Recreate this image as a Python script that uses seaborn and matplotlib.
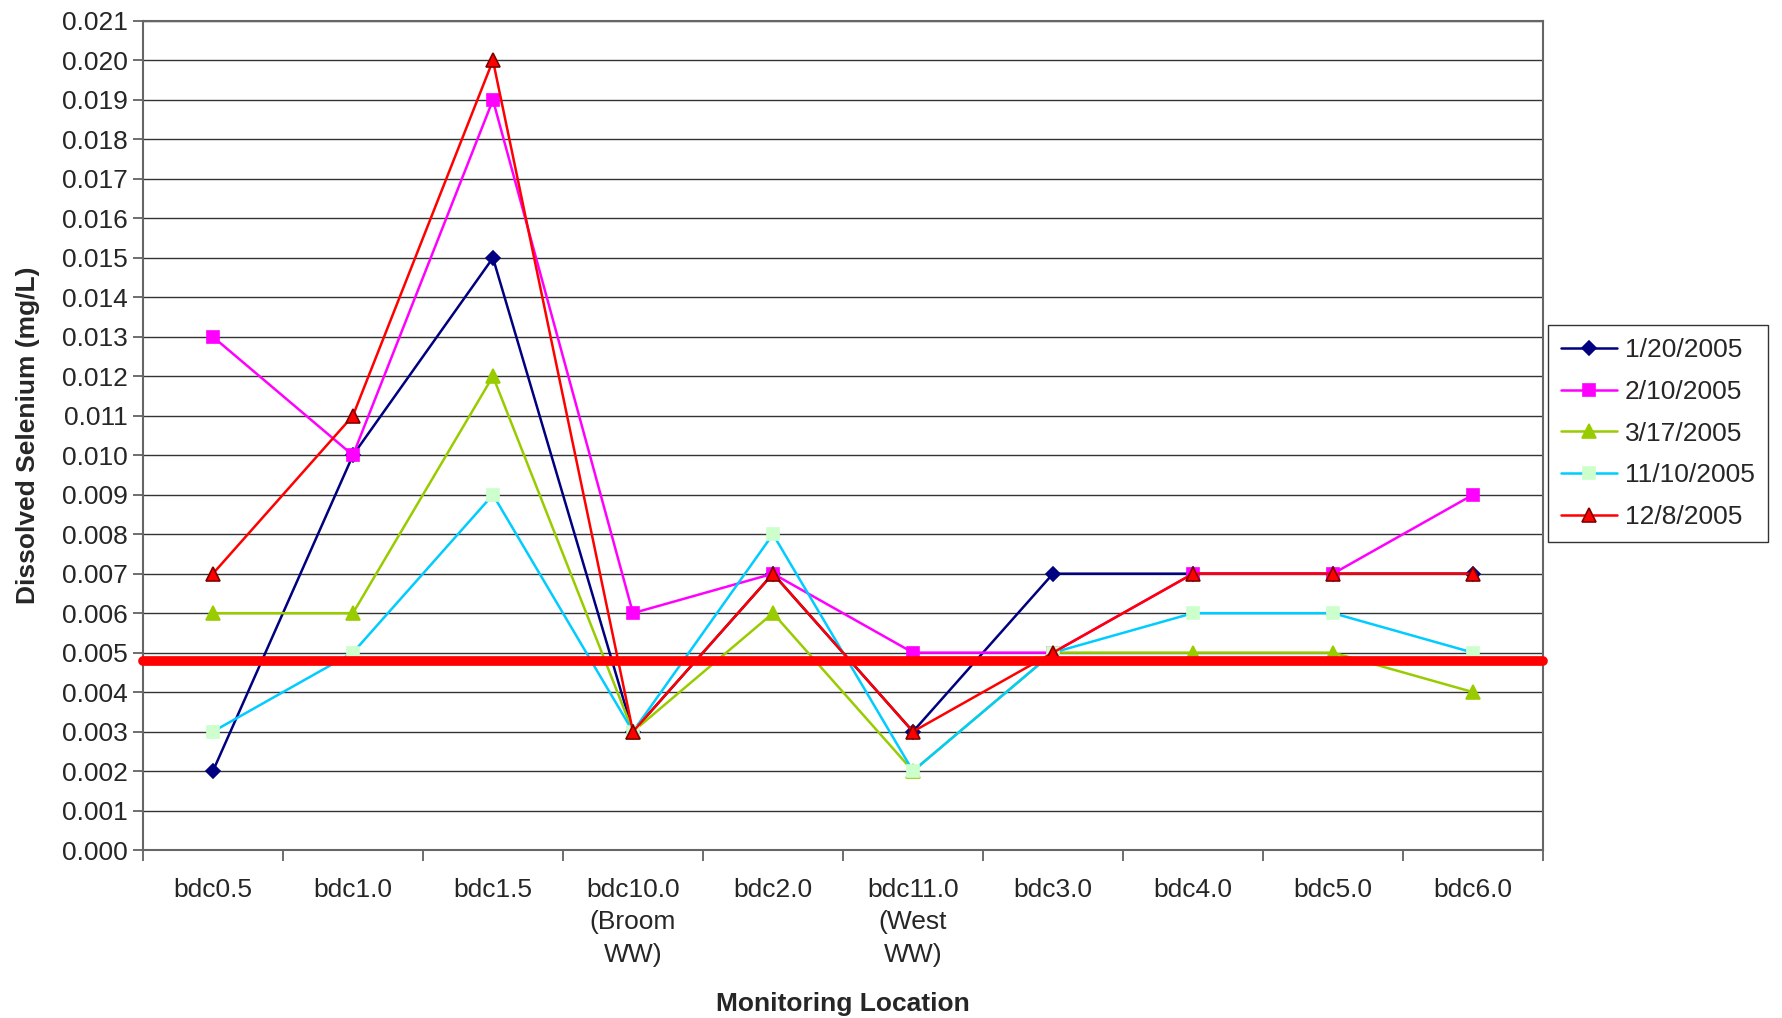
import numpy as np
import pandas as pd
import matplotlib
matplotlib.use("Agg")
import matplotlib.pyplot as plt
import seaborn as sns
from matplotlib.ticker import FixedLocator, FuncFormatter

# Monitoring locations along the creek
locations = ["bdc0.5", "bdc1.0", "bdc1.5", "bdc10.0\n(Broom\nWW)", "bdc2.0",
             "bdc11.0\n(West\nWW)", "bdc3.0", "bdc4.0", "bdc5.0", "bdc6.0"]

# Dissolved selenium (mg/L) per sampling date
se_2005_01_20 = [0.002, 0.010, 0.015, 0.003, 0.007, 0.003, 0.007, 0.007, 0.007, 0.007]
se_2005_02_10 = [0.013, 0.010, 0.019, 0.006, 0.007, 0.005, 0.005, 0.007, 0.007, 0.009]
se_2005_03_17 = [0.006, 0.006, 0.012, 0.003, 0.006, 0.002, 0.005, 0.005, 0.005, 0.004]
se_2005_11_10 = [0.003, 0.005, 0.009, 0.003, 0.008, 0.002, 0.005, 0.006, 0.006, 0.005]
se_2005_12_08 = [0.007, 0.011, 0.020, 0.003, 0.007, 0.003, 0.005, 0.007, 0.007, 0.007]

dates = ["1/20/2005", "2/10/2005", "3/17/2005", "11/10/2005", "12/8/2005"]
series = [se_2005_01_20, se_2005_02_10, se_2005_03_17, se_2005_11_10, se_2005_12_08]

# Water quality standard
standard = 0.0048

y_ticks = [round(0.001 * i, 3) for i in range(22)]

styles = {
    "1/20/2005": dict(color="#000080", marker="D", ms=7.5, mfc="#000080", mec="#000080"),
    "2/10/2005": dict(color="#FF00FF", marker="s", ms=9, mfc="#FF00FF", mec="#FF00FF"),
    "3/17/2005": dict(color="#99CC00", marker="^", ms=10.5, mfc="#99CC00", mec="#99CC00"),
    "11/10/2005": dict(color="#00CCFF", marker="s", ms=9, mfc="#CCFFCC", mec="#CCFFCC"),
    "12/8/2005": dict(color="#FF0000", marker="^", ms=10.5, mfc="#FF0000", mec="#800000"),
}

FS = 19

sns.set_style("white")
plt.rcParams["font.family"] = ["Liberation Sans", "DejaVu Sans"]

fig = plt.figure(figsize=(17.82, 10.18), dpi=100)
ax = fig.add_axes([0.0802, 0.165, 0.7857, 0.8144])

xpos = np.arange(len(locations))
for date, vals in zip(dates, series):
    df = pd.DataFrame({"x": xpos, "y": vals})
    st = styles[date]
    sns.lineplot(data=df, x="x", y="y", ax=ax, color=st["color"], lw=1.8,
                 marker=st["marker"], markersize=st["ms"],
                 markerfacecolor=st["mfc"], markeredgecolor=st["mec"],
                 markeredgewidth=1.2, label=date, zorder=3)

# Standard line across the whole plot
ax.plot([-0.5, 9.5], [standard, standard], color="#FF0000", lw=7,
        solid_capstyle="round", zorder=5, clip_on=False)

ax.set_xlim(-0.5, 9.5)
ax.set_ylim(0, 0.021)
ax.yaxis.set_major_locator(FixedLocator(y_ticks))
ax.yaxis.set_major_formatter(FuncFormatter(lambda v, p: f"{v:.3f}"))
ax.grid(axis="y", color="#333333", lw=1.0)
ax.set_axisbelow(True)

ax.set_xticks(xpos)
ax.set_xticklabels(locations, fontsize=FS, linespacing=1.45)
ax.set_xticks(np.arange(-0.5, 10.0, 1.0), minor=True)
ax.tick_params(axis="x", which="major", length=0, pad=20)
ax.tick_params(axis="x", which="minor", length=8, width=1.2, color="#555555", direction="out", bottom=True)
ax.tick_params(axis="y", length=7, width=1.2, color="#555555", direction="out", left=True, labelsize=FS, pad=4)

for side in ["left", "bottom", "right", "top"]:
    ax.spines[side].set_color("#666666")
    ax.spines[side].set_linewidth(1.5)

ax.set_xlabel("Monitoring Location", fontsize=FS, fontweight="bold", labelpad=18)
ax.set_ylabel("Dissolved Selenium (mg/L)", fontsize=FS, fontweight="bold", labelpad=16)

handles, labels = ax.get_legend_handles_labels()
leg = fig.legend(handles, labels, loc="upper left", bbox_to_anchor=(1548 / 1782, 1 - 325 / 1018),
                 fontsize=FS, frameon=True, fancybox=False, edgecolor="#000000",
                 handlelength=2.1, handletextpad=0.3, labelspacing=0.67, borderpad=0.5,
                 borderaxespad=0)
leg.get_frame().set_linewidth(1.0)
if ax.get_legend() is not None:
    ax.get_legend().remove()

fig.savefig("out.png", dpi=100, facecolor="white")
